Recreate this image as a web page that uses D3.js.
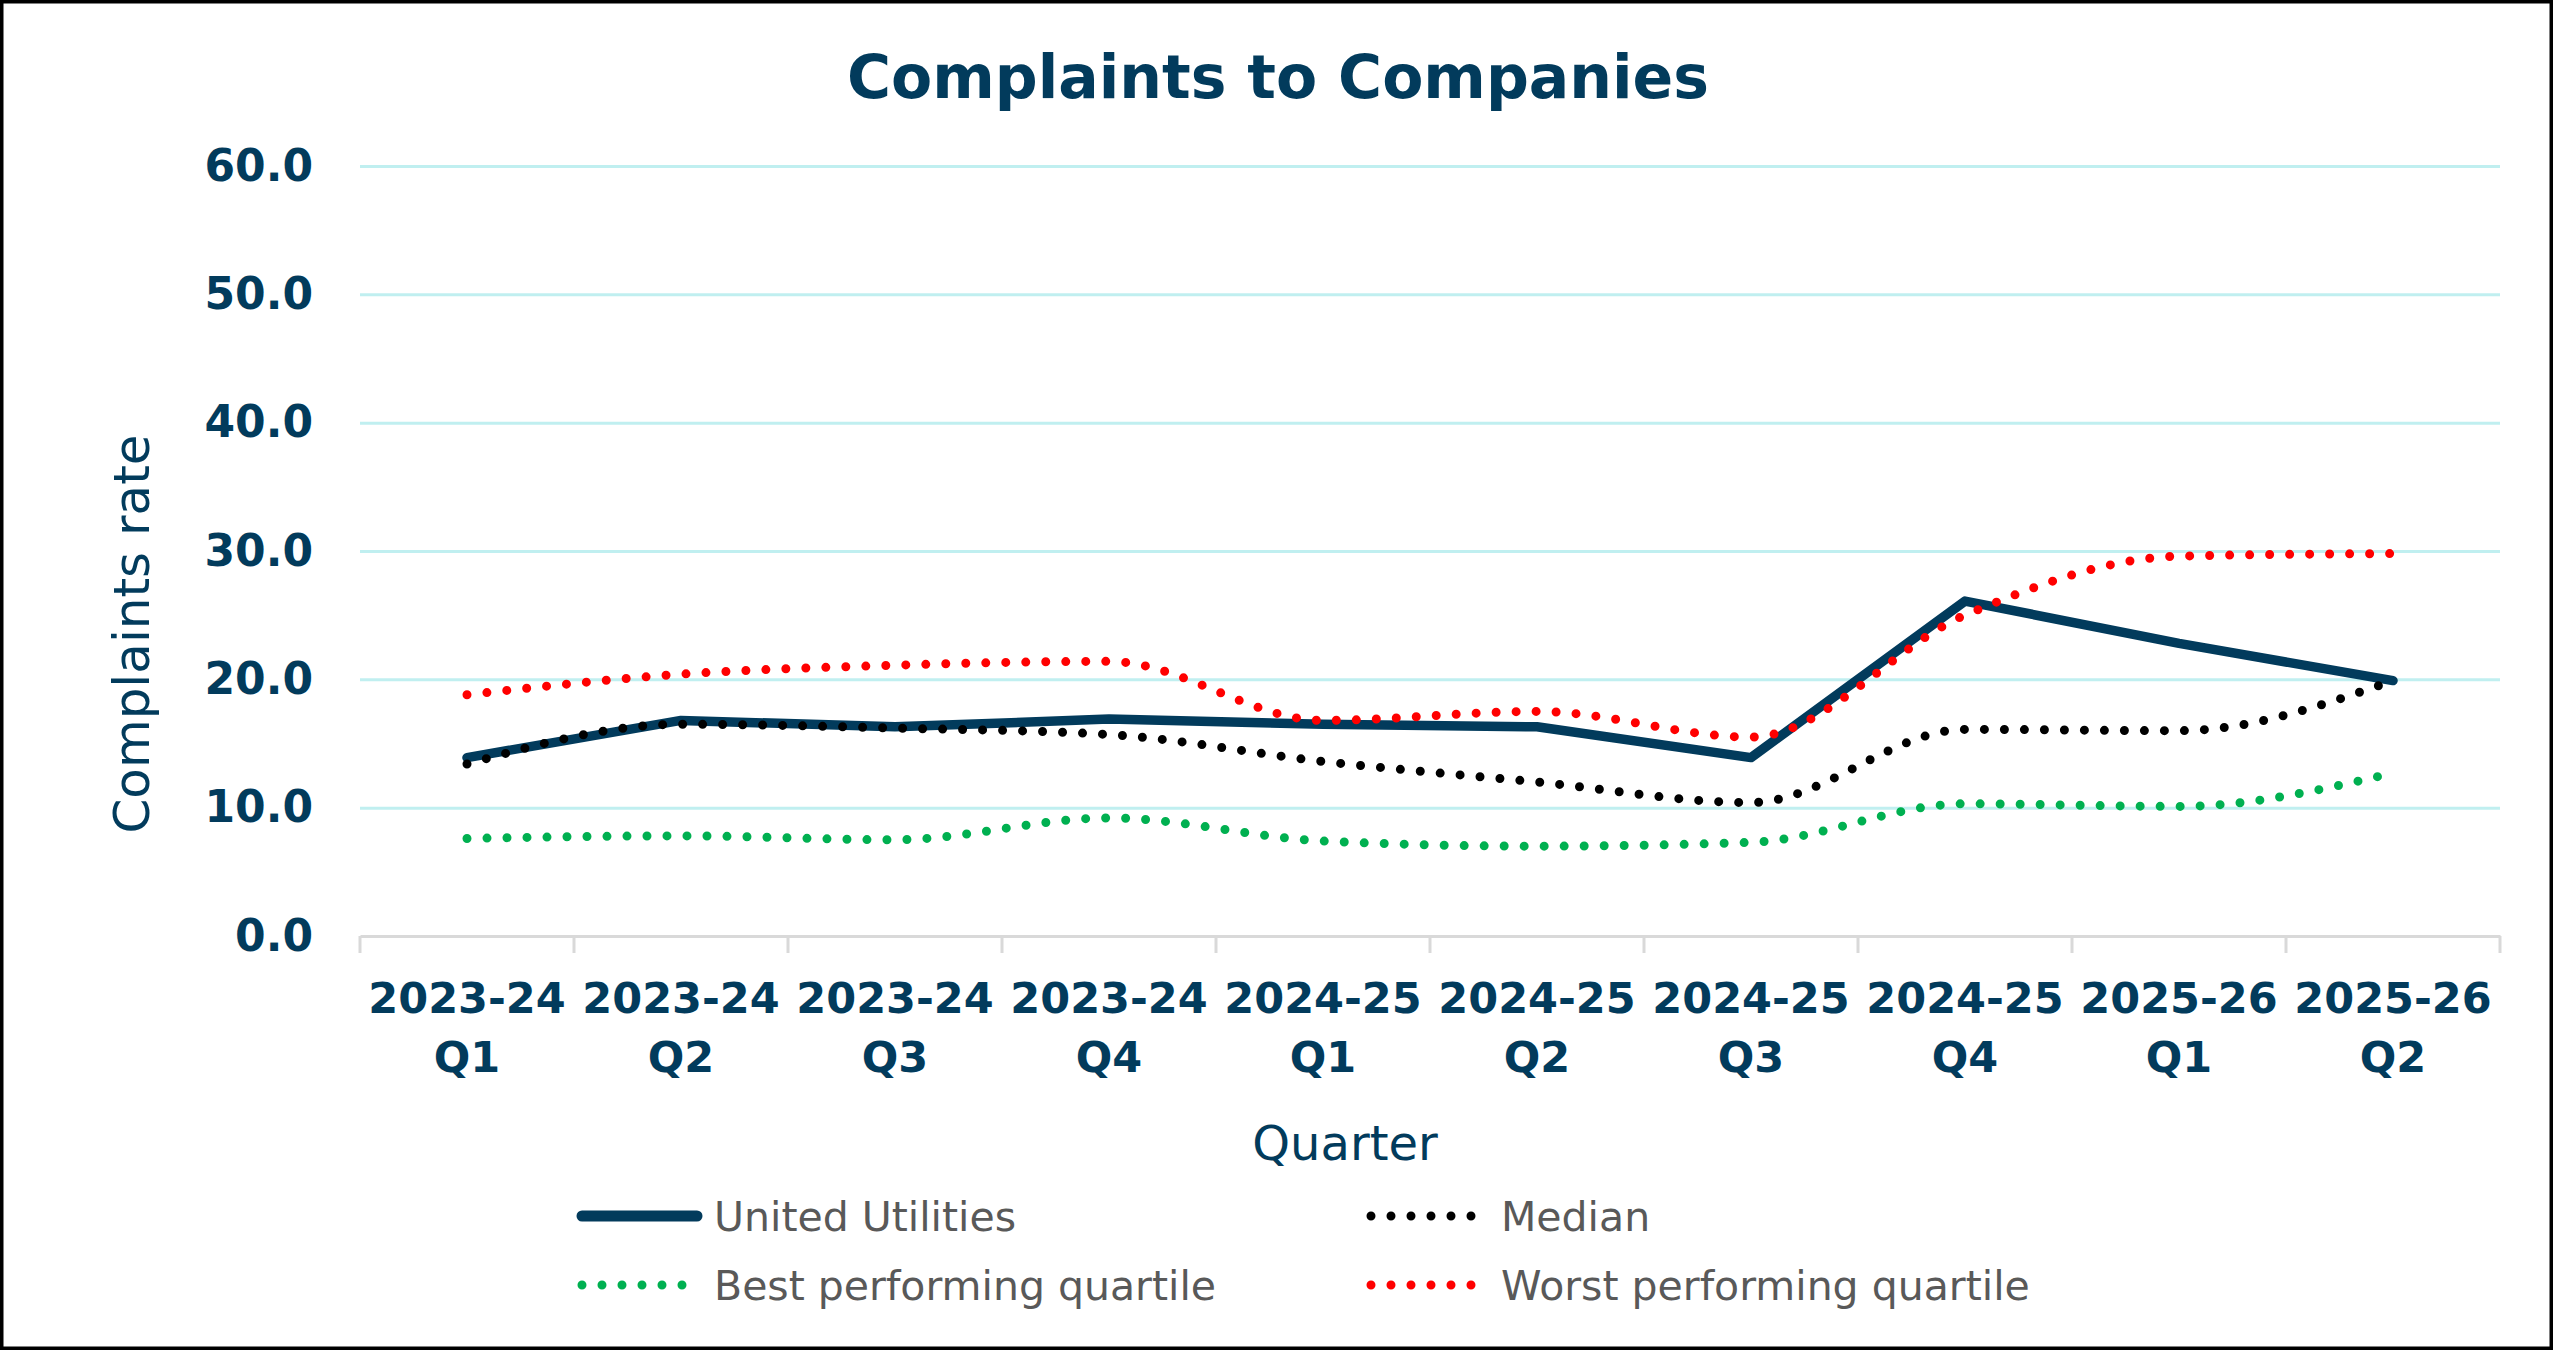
<!DOCTYPE html>
<html>
<head>
<meta charset="utf-8">
<script src="https://cdn.jsdelivr.net/npm/d3@7"></script>
<style>
  body { margin: 0; background: #fff; }
  svg { display: block; }
</style>
</head>
<body>
<svg id="chart"></svg>
<script>
var quarters = ['2023-24 Q1', '2023-24 Q2', '2023-24 Q3', '2023-24 Q4', '2024-25 Q1',
                '2024-25 Q2', '2024-25 Q3', '2024-25 Q4', '2025-26 Q1', '2025-26 Q2'];
var unitedUtilities = [13.9, 16.8, 16.3, 16.9, 16.5, 16.3, 13.9, 26.1, 22.8, 19.9];
var median = [13.4, 16.5, 16.2, 15.7, 13.6, 12.0, 10.4, 16.1, 16.0, 19.9];
var bestQuartile = [7.6, 7.8, 7.5, 9.2, 7.4, 7.0, 7.3, 10.3, 10.1, 12.7];
var worstQuartile = [18.8, 20.4, 21.1, 21.4, 16.8, 17.5, 15.5, 25.0, 29.6, 29.8];
var yTicks = [0, 10, 20, 30, 40, 50, 60];
var seriesNames = ['United Utilities', 'Median', 'Best performing quartile', 'Worst performing quartile'];

var W = 2553, H = 1350;
var navy = '#023b5c';
var plotLeft = 360, plotRight = 2500, plotTop = 166, plotBottom = 936;

var svg = d3.select('#chart').attr('width', W).attr('height', H);

svg.append('rect')
    .attr('x', 1.75).attr('y', 1.75)
    .attr('width', W - 3.5).attr('height', H - 3.5)
    .attr('fill', '#fff')
    .attr('stroke', '#000')
    .attr('stroke-width', 3.5);

svg.append('text')
    .text('Complaints to Companies')
    .attr('x', 1278).attr('y', 98)
    .attr('text-anchor', 'middle')
    .attr('font-family', 'DejaVu Sans')
    .attr('font-weight', 'bold')
    .attr('font-size', 60)
    .attr('fill', navy);

var x = d3.scaleBand().domain(quarters).range([plotLeft, plotRight]);
var y = d3.scaleLinear().domain([0, 60]).range([plotBottom, plotTop]);

// gridlines + y labels
var yAxis = svg.append('g')
    .attr('transform', 'translate(' + plotLeft + ',0)')
    .call(d3.axisLeft(y).tickValues(yTicks).tickFormat(d3.format('.1f')).tickSize(-(plotRight - plotLeft)).tickPadding(47));
yAxis.select('.domain').remove();
yAxis.selectAll('.tick line')
    .attr('stroke', '#c0eff0')
    .attr('stroke-width', 3)
    .attr('stroke-opacity', function(d) { return d === 0 ? 0 : 1; });
yAxis.selectAll('.tick text')
    .attr('font-family', 'DejaVu Sans')
    .attr('font-weight', 'bold')
    .attr('font-size', 44)
    .attr('fill', navy);

// x axis
var xAxis = svg.append('g')
    .attr('transform', 'translate(0,' + plotBottom + ')')
    .call(d3.axisBottom(x).tickSize(0).tickPadding(0));
xAxis.select('.domain')
    .attr('stroke', '#d9d9d9')
    .attr('stroke-width', 3);
xAxis.selectAll('.tick text').remove();
xAxis.selectAll('.tick').each(function(d) {
    var parts = d.split(' ');
    var t = d3.select(this).append('text')
        .attr('text-anchor', 'middle')
        .attr('font-family', 'DejaVu Sans')
        .attr('font-weight', 'bold')
        .attr('font-size', 43)
        .attr('fill', navy);
    t.append('tspan').attr('x', 0).attr('y', 77).text(parts[0]);
    t.append('tspan').attr('x', 0).attr('y', 136).text(parts[1]);
});
xAxis.selectAll('.boundary')
    .data(d3.range(quarters.length + 1))
    .enter()
    .append('line')
    .attr('class', 'boundary')
    .attr('x1', function(i) { return plotLeft + i * x.step(); })
    .attr('x2', function(i) { return plotLeft + i * x.step(); })
    .attr('y1', 0).attr('y2', 17)
    .attr('stroke', '#d9d9d9')
    .attr('stroke-width', 3);

svg.append('text')
    .text('Complaints rate')
    .attr('transform', 'translate(149,634) rotate(-90)')
    .attr('text-anchor', 'middle')
    .attr('font-family', 'DejaVu Sans')
    .attr('font-size', 50)
    .attr('fill', navy);

svg.append('text')
    .text('Quarter')
    .attr('x', 1345).attr('y', 1160)
    .attr('text-anchor', 'middle')
    .attr('font-family', 'DejaVu Sans')
    .attr('font-size', 48)
    .attr('fill', navy);

var cx = function(d, i) { return x(quarters[i]) + x.bandwidth() / 2; };

var series = [
    { name: seriesNames[0], values: unitedUtilities, color: navy, dotted: false, curve: d3.curveLinear },
    { name: seriesNames[1], values: median, color: '#000000', dotted: true, curve: d3.curveMonotoneX },
    { name: seriesNames[2], values: bestQuartile, color: '#00b050', dotted: true, curve: d3.curveMonotoneX },
    { name: seriesNames[3], values: worstQuartile, color: '#ff0000', dotted: true, curve: d3.curveMonotoneX }
];

series.forEach(function(s) {
    var line = d3.line()
        .x(cx)
        .y(function(d) { return y(d); })
        .curve(s.curve);
    svg.append('path')
        .datum(s.values)
        .attr('d', line)
        .attr('fill', 'none')
        .attr('stroke', s.color)
        .attr('stroke-width', s.dotted ? 9 : 9.5)
        .attr('stroke-linecap', 'round')
        .attr('stroke-linejoin', 'round')
        .attr('stroke-dasharray', s.dotted ? '0 20' : null);
});

// legend
var legendPos = [[577, 1216], [1366, 1216], [577, 1285], [1366, 1285]];
var legend = svg.selectAll('.legend')
    .data(series)
    .enter()
    .append('g')
    .attr('class', 'legend')
    .attr('transform', function(d, i) { return 'translate(' + legendPos[i][0] + ',' + legendPos[i][1] + ')'; });
legend.append('line')
    .attr('x1', 5)
    .attr('x2', function(d) { return d.dotted ? 106 : 120; })
    .attr('y1', 0).attr('y2', 0)
    .attr('stroke', function(d) { return d.color; })
    .attr('stroke-width', function(d) { return d.dotted ? 9 : 11; })
    .attr('stroke-linecap', 'round')
    .attr('stroke-dasharray', function(d) { return d.dotted ? '0 20' : null; });
legend.append('text')
    .text(function(d) { return d.name; })
    .attr('x', function(d, i) { return i % 2 === 1 ? 135 : 137; })
    .attr('y', 15)
    .attr('font-family', 'DejaVu Sans')
    .attr('font-size', 41)
    .attr('fill', '#595959');
</script>
</body>
</html>
